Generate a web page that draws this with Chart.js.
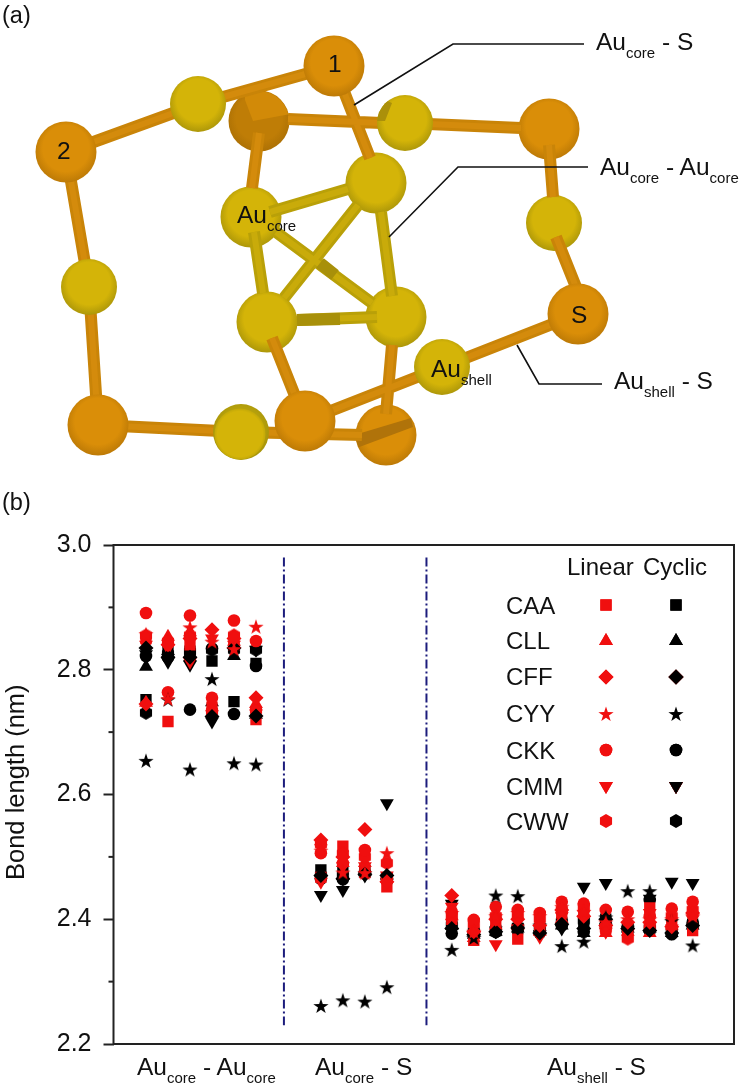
<!DOCTYPE html>
<html>
<head>
<meta charset="utf-8">
<script src="https://cdn.jsdelivr.net/npm/chart.js@4/dist/chart.umd.min.js"></script>
<style>
html,body{margin:0;padding:0;background:#fff;}
#page{position:relative;width:742px;height:1086px;overflow:hidden;font-family:"Liberation Sans",Arial,sans-serif;color:#111;}
canvas{position:absolute;left:0;}
.lb{position:absolute;font-size:24.5px;line-height:30px;white-space:nowrap;}
.lb sub{font-size:15px;vertical-align:-8px;line-height:0;}
#ytitle{position:absolute;left:0;top:880px;font-size:25.5px;line-height:30px;white-space:nowrap;transform-origin:left top;transform:rotate(-90deg);}
</style>
</head>
<body>
<div id="page">
<canvas id="molChart" width="742" height="490" style="top:0"></canvas>
<canvas id="bondChart" width="742" height="596" style="top:490px"></canvas>
<div id="ytitle">Bond length (nm)</div>
</div>
<script>
// ---- panel (a): atoms as [x, y] in the picture's frame
const sulfurFront = [[334,66],[66,152],[578,314],[98,425],[305,421]];
const sulfurBack = [[549,129]];
const sulfurShadedTop = [[259,121]];
const sulfurShadedBand = [[386,435]];
const shellFront = [[198,104],[89,287],[442,367]];
const shellPatched = [[405,123]];
const shellBack = [[554,223]];
const shellRim = [[241,432]];
const coreAtoms = [[251,217],[376,183],[267,322],[396,317]];

// bonds as [x1, y1, x2, y2]
const auSBonds = [
  [66,152,198,104],[198,104,334,66],[334,66,370,158],
  [288,119,405,124],[405,123,521,128],[259,133,252,188],
  [549,145,553,197],[556,237,578,292],
  [66,152,89,287],[89,287,98,425],[98,425,241,432],[241,432,362,435],
  [272,338,305,421],[392,345,386,414],[578,314,305,421]
];
const coreBonds = [
  [270,212,348,189],[254,232,263,293],[276,232,372,303],
  [358,205,284,298],[381,212,392,296],[297,320,377,317]
];
const coreBondShade = [[320,263,335,275],[297,320,340,319]];
const leaderCoreS = [[354,105],[453,44],[584,44]];
const leaderCoreCore = [[389,237],[458,167],[588,167]];
const leaderShellS = [[517,345],[539,384],[602,384]];

// ---- panel (b)
const sites = [1,2,3,4,5,6, 8.95,9.95,10.95,11.95,
  14.9,15.9,16.9,17.9,18.9,19.9,20.9,21.9,22.9,23.9,24.9,25.85];
const yMinorTicks = [2.3,2.5,2.7,2.9];
const separators = [7.27,13.75];

const linCAA = [2.85,2.717,2.84,2.74,2.84,2.72, 2.467,2.517,2.475,2.452, 2.40,2.366,2.395,2.368,2.385,2.41,2.415,2.385,2.372,2.418,2.39,2.382];
const linCLL = [2.747,2.853,2.86,2.74,2.845,2.745, 2.525,2.49,2.49,2.465, 2.405,2.37,2.39,2.39,2.38,2.4,2.41,2.378,2.38,2.378,2.39,2.395];
const linCFF = [2.745,2.84,2.85,2.864,2.85,2.755, 2.527,2.5,2.544,2.46, 2.438,2.38,2.4,2.4,2.39,2.415,2.405,2.39,2.395,2.395,2.388,2.41];
const linCYY = [2.857,2.753,2.868,2.845,2.833,2.869, 2.51,2.475,2.474,2.506, 2.41,2.38,2.405,2.41,2.405,2.42,2.412,2.395,2.4,2.4,2.4,2.405];
const linCKK = [2.891,2.764,2.887,2.755,2.879,2.846, 2.506,2.49,2.511,2.466, 2.412,2.399,2.42,2.415,2.41,2.428,2.425,2.415,2.412,2.405,2.417,2.428];
const linCMM = [2.84,2.835,2.813,2.85,2.84,2.73, 2.46,2.485,2.485,2.47, 2.42,2.372,2.36,2.385,2.372,2.405,2.408,2.38,2.378,2.41,2.385,2.4];
const linCWW = [2.855,2.845,2.855,2.733,2.855,2.735, 2.52,2.505,2.5,2.49, 2.405,2.392,2.405,2.405,2.4,2.415,2.42,2.385,2.369,2.39,2.405,2.415];
const cycCAA = [2.752,2.83,2.83,2.814,2.749,2.81, 2.479,2.48,2.478,2.465, 2.392,2.378,2.382,2.385,2.385,2.395,2.395,2.4,2.385,2.385,2.38,2.392];
const cycCLL = [2.805,2.83,2.82,2.748,2.822,2.728, 2.475,2.47,2.476,2.47, 2.39,2.375,2.38,2.385,2.382,2.39,2.378,2.398,2.385,2.385,2.378,2.39];
const cycCFF = [2.835,2.82,2.82,2.725,2.835,2.726, 2.47,2.465,2.472,2.47, 2.385,2.375,2.38,2.386,2.378,2.392,2.385,2.4,2.385,2.382,2.378,2.39];
const cycCYY = [2.654,2.752,2.64,2.785,2.65,2.648, 2.261,2.27,2.268,2.291, 2.351,2.37,2.438,2.437,2.39,2.357,2.364,2.403,2.445,2.445,2.397,2.358];
const cycCKK = [2.822,2.82,2.736,2.834,2.729,2.806, 2.465,2.464,2.474,2.465, 2.377,2.38,2.38,2.385,2.378,2.39,2.38,2.39,2.385,2.431,2.376,2.392];
const cycCMM = [2.825,2.813,2.808,2.717,2.83,2.832, 2.439,2.447,2.47,2.586, 2.425,2.37,2.382,2.383,2.376,2.385,2.452,2.458,2.383,2.433,2.46,2.458];
const cycCWW = [2.731,2.825,2.829,2.832,2.832,2.832, 2.47,2.47,2.473,2.468, 2.39,2.38,2.38,2.388,2.385,2.395,2.398,2.39,2.387,2.385,2.38,2.392];

const RED = "#f00f0f", BLACK = "#000000";

// SPRITES
function newSprite(size, draw){
  const c = document.createElement("canvas");
  c.width = c.height = size;
  const g = c.getContext("2d");
  g.translate(size/2, size/2);
  draw(g);
  return c;
}
function ball(g, r, mid, edge){
  const gr = g.createRadialGradient(0,-6,r*0.3,0,-2,r+2);
  gr.addColorStop(0, mid);
  gr.addColorStop(0.6, mid);
  gr.addColorStop(1, edge);
  g.fillStyle = gr;
  g.beginPath(); g.arc(0,0,r,0,Math.PI*2); g.fill();
}
function poly(g, pts){
  g.beginPath();
  pts.forEach((p,i)=> i ? g.lineTo(p[0],p[1]) : g.moveTo(p[0],p[1]));
  g.closePath();
}
const ORANGE = ["#da8e08","#bd7a06"], YELLOW = ["#d4b408","#ad9709"];
const orangeSprite = newSprite(64, g=>ball(g,30.5,ORANGE[0],ORANGE[1]));
const yellowSprite = newSprite(60, g=>ball(g,28,YELLOW[0],YELLOW[1]));
const coreSprite = newSprite(64, g=>ball(g,30.5,YELLOW[0],YELLOW[1]));
const shadedTopSprite = newSprite(64, g=>{
  ball(g,30.5,"#bf7d06","#ad7105");
  g.save();
  g.beginPath(); g.arc(0,0,30,0,Math.PI*2); g.clip();
  g.fillStyle = "#d28a08";
  poly(g,[[-14,-21],[-6,0],[31,-7],[31,-31],[-14,-31]]); g.fill();
  g.restore();
});
const shadedBandSprite = newSprite(64, g=>{
  ball(g,30.5,ORANGE[0],ORANGE[1]);
  g.save();
  g.beginPath(); g.arc(0,0,30,0,Math.PI*2); g.clip();
  g.fillStyle = "#b0730a";
  poly(g,[[-35,1],[25,-17],[27,-8],[-35,15]]); g.fill();
  g.restore();
});
const patchedSprite = newSprite(60, g=>{
  ball(g,28,YELLOW[0],YELLOW[1]);
  g.save();
  g.beginPath(); g.arc(0,0,28,0,Math.PI*2); g.clip();
  g.fillStyle = "#ab900a";
  poly(g,[[-30,-2],[-20,-2],[-13,-20],[-22,-24],[-30,-14]]); g.fill();
  g.restore();
});
const rimSprite = newSprite(60, g=>{
  ball(g,28,"#b5a00c","#a8950a");
  const gr = g.createRadialGradient(-1,2,6,-1,2,25.5);
  gr.addColorStop(0,YELLOW[0]); gr.addColorStop(0.85,YELLOW[0]); gr.addColorStop(1,"#c2a808");
  g.fillStyle = gr;
  g.beginPath(); g.arc(-1,2,25.5,0,Math.PI*2); g.fill();
});

function starSprite(color){
  return newSprite(18, g=>{
    const pts = [];
    for(let i=0;i<10;i++){
      const r = i%2 ? 3.1 : 8;
      const a = i*Math.PI/5;
      pts.push([Math.sin(a)*r, -Math.cos(a)*r+0.6]);
    }
    g.fillStyle = color; poly(g,pts); g.fill();
  });
}
function hexSprite(color){
  return newSprite(18, g=>{
    const pts = [];
    for(let i=0;i<6;i++){
      const a = i*Math.PI/3;
      pts.push([Math.sin(a)*7, -Math.cos(a)*7]);
    }
    g.fillStyle = color; poly(g,pts); g.fill();
  });
}
function markerStyle(name, color){
  if(name==="CAA") return {pointStyle:"rect", pointRadius:8};
  if(name==="CLL") return {pointStyle:"triangle", pointRadius:8};
  if(name==="CFF") return {pointStyle:"rectRot", pointRadius:7.5};
  if(name==="CYY") return {pointStyle:starSprite(color), pointRadius:8};
  if(name==="CKK") return {pointStyle:"circle", pointRadius:6.3};
  if(name==="CMM") return {pointStyle:"triangle", pointRadius:8, pointRotation:180};
  return {pointStyle:hexSprite(color), pointRadius:7};
}

// PANEL A
function atomSet(list, sprite){
  return {
    data:list.map(p=>({x:p[0],y:p[1]})),
    showLine:false, pointStyle:sprite, pointRadius:30, pointHoverRadius:30,
    pointBackgroundColor:"#000", pointBorderWidth:0
  };
}
function bondPoints(list){
  const pts = [];
  list.forEach(b=>{
    pts.push({x:b[0],y:b[1]},{x:b[2],y:b[3]},{x:b[2],y:null});
  });
  return pts;
}
function lineSet(pts, color, width){
  return {data:pts, showLine:true, spanGaps:false, borderColor:color, borderWidth:width,
    borderCapStyle:"butt", pointRadius:0, pointHoverRadius:0, tension:0};
}
function pathSet(list){
  return lineSet(list.map(p=>({x:p[0],y:p[1]})), "#111", 1.6);
}

// bottom to top, chart.js draws dataset 0 last
const molLayers = [
  atomSet(sulfurShadedTop, shadedTopSprite),
  atomSet(sulfurShadedBand, shadedBandSprite),
  atomSet(sulfurBack, orangeSprite),
  atomSet(shellBack, yellowSprite),
  atomSet(coreAtoms, coreSprite),
  lineSet(bondPoints(coreBonds), "#b9a008", 12),
  lineSet(bondPoints(coreBonds), "#c9ab0a", 6),
  lineSet(bondPoints(coreBondShade), "#a8900a", 12),
  lineSet(bondPoints(auSBonds), "#c98408", 12),
  lineSet(bondPoints(auSBonds), "#d48b0c", 6),
  atomSet(sulfurFront, orangeSprite),
  atomSet(shellFront, yellowSprite),
  atomSet(shellPatched, patchedSprite),
  atomSet(shellRim, rimSprite),
  pathSet(leaderCoreS),
  pathSet(leaderCoreCore),
  pathSet(leaderShellS)
];

new Chart(document.getElementById("molChart"), {
  type:"scatter",
  data:{datasets:molLayers.reverse()},
  options:{
    responsive:false, animation:false, events:[],
    layout:{autoPadding:false},
    plugins:{legend:{display:false},tooltip:{enabled:false}},
    scales:{
      x:{display:false,min:0,max:742},
      y:{display:false,min:0,max:490,reverse:true}
    }
  }
});

// PANEL B
const legendRows = ["CAA","CLL","CFF","CYY","CKK","CMM","CWW"];
const legendRowY = [605,641,677,714,750,786,821];
const legendColX = [606,676];

function seriesSet(name, values, color){
  const st = markerStyle(name, color);
  return Object.assign({
    label:name,
    data:values.map((v,i)=>({x:sites[i],y:v})),
    showLine:false, pointBackgroundColor:color, pointBorderWidth:0
  }, st);
}
function sepSet(x){
  return {data:[{x:x,y:2.98},{x:x,y:2.23}], showLine:true, borderColor:"#1c1c7c", borderWidth:2,
    borderDash:[9,3,2,3], pointRadius:0};
}

const bondLayers = [
  sepSet(separators[0]), sepSet(separators[1]),
  seriesSet("CAA",cycCAA,BLACK), seriesSet("CLL",cycCLL,BLACK), seriesSet("CMM",cycCMM,BLACK),
  seriesSet("CKK",cycCKK,BLACK), seriesSet("CWW",cycCWW,BLACK),
  seriesSet("CAA",linCAA,RED), seriesSet("CLL",linCLL,RED), seriesSet("CMM",linCMM,RED),
  seriesSet("CWW",linCWW,RED), seriesSet("CKK",linCKK,RED),
  seriesSet("CFF",cycCFF,BLACK), seriesSet("CYY",cycCYY,BLACK),
  seriesSet("CFF",linCFF,RED), seriesSet("CYY",linCYY,RED)
];

// box round the plot, short minor ticks and the legend symbols
const framePlugin = {
  id:"frame",
  beforeDatasetsDraw(chart){
    const a = chart.chartArea, g = chart.ctx, sy = chart.scales.y;
    g.save();
    g.strokeStyle = "#222"; g.lineWidth = 2;
    g.strokeRect(a.left, a.top, a.right-a.left, a.bottom-a.top);
    yMinorTicks.forEach(v=>{
      const y = sy.getPixelForValue(v);
      g.beginPath(); g.moveTo(a.left-5,y); g.lineTo(a.left,y); g.stroke();
    });
    g.restore();
  },
  afterDatasetsDraw(chart){
    const g = chart.ctx, top = chart.canvas.getBoundingClientRect().top;
    legendRows.forEach((name,i)=>{
      [RED,BLACK].forEach((color,k)=>{
        const st = markerStyle(name,color);
        g.save();
        g.fillStyle = color;
        Chart.helpers.drawPoint(g, {pointStyle:st.pointStyle, rotation:st.pointRotation||0, radius:st.pointRadius, borderWidth:0},
          legendColX[k], legendRowY[i]-top);
        g.fill();
        g.restore();
      });
    });
  }
};

new Chart(document.getElementById("bondChart"), {
  type:"scatter",
  data:{datasets:bondLayers.reverse()},
  plugins:[framePlugin],
  options:{
    responsive:false, animation:false, events:[],
    layout:{autoPadding:false,padding:{top:55,bottom:42,right:8,left:0}},
    plugins:{legend:{display:false},tooltip:{enabled:false}},
    scales:{
      x:{display:false,min:-0.477,max:27.73},
      y:{
        min:2.2,max:3.0,
        afterFit(s){ s.width = 113.5; },
        border:{display:false},
        grid:{drawOnChartArea:false,drawTicks:true,tickLength:10,tickWidth:2,tickColor:"#222"},
        ticks:{stepSize:0.2,padding:12,color:"#111",font:{family:"Liberation Sans",size:25},
          callback:v=>v.toFixed(1)}
      }
    }
  }
});

// TEXT
const labels = [
  ["(a)",2,23,23.5],["(b)",2,510,23.5],
  ["Au<sub>core</sub> - S",596,50],
  ["Au<sub>core</sub> - Au<sub>core</sub>",600,175],
  ["Au<sub>shell</sub> - S",614,389],
  ["1",328,72],["2",57,159],["S",571,323],
  ["Au<sub>core</sub>",237,223],["Au<sub>shell</sub>",431,377],
  ["Au<sub>core</sub> - Au<sub>core</sub>",137,1075],
  ["Au<sub>core</sub> - S",315,1075],
  ["Au<sub>shell</sub> - S",547,1075],
  ["Linear",567,575,24],["Cyclic",643,575,24],
  ["CAA",506,614,24],["CLL",506,649,24],["CFF",506,685,24],["CYY",506,722,24],
  ["CKK",506,759,24],["CMM",506,795,24],["CWW",506,830,24]
];
const page = document.getElementById("page");
labels.forEach(l=>{
  const d = document.createElement("div");
  d.className = "lb";
  d.innerHTML = l[0];
  d.style.left = l[1]+"px";
  d.style.top = (l[2]-23.5)+"px";
  if(l[3]) d.style.fontSize = l[3]+"px";
  page.appendChild(d);
});
</script>
</body>
</html>
